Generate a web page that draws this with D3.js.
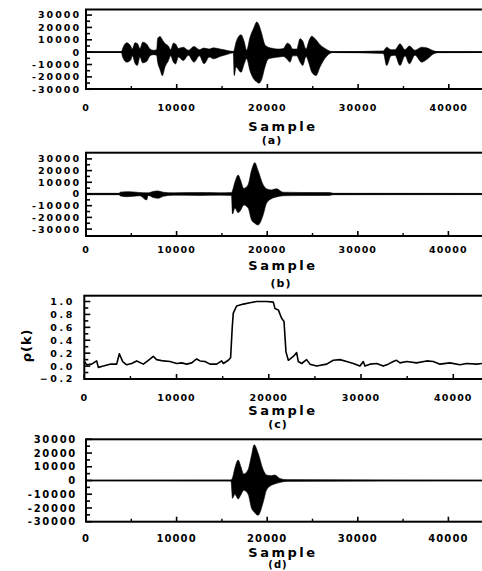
<!DOCTYPE html>
<html><head><meta charset="utf-8">
<script src="https://cdn.jsdelivr.net/npm/d3@7"></script>
<style>
html,body{margin:0;padding:0;background:#fff;}
svg{display:block;}
text{font-family:"DejaVu Sans",sans-serif;font-weight:bold;fill:#000;}
</style></head>
<body>
<svg id="c" width="482" height="571"></svg>
<script>
// ---- data ----
const xTicks = [0, 10000, 20000, 30000, 40000];
const xMinor = [5000, 15000, 25000, 35000];
const waveTicks = [30000, 20000, 10000, 0, -10000, -20000, -30000];
const rhoTicks = [1.0, 0.8, 0.6, 0.4, 0.2, 0.0, -0.2];
const panelLabels = ["(a)", "(b)", "(c)", "(d)"];
const xLabel = "Sample";
const rhoLabel = "ρ(k)";

// envelopes: [sample, upper, lower]
const envA = [
 [0,300,-300],[3900,300,-300],[4040,3000,-4000],[4480,7600,-8100],[4920,5000,-6500],[5110,2500,-3000],
 [5400,7600,-9000],[5660,7000,-10800],[5950,3000,-4000],[6250,8100,-8700],[6690,6500,-7500],[7060,2500,-3000],
 [7420,1500,-2000],[7790,2000,-2500],[7900,11000,-8000],[8160,12700,-14000],[8420,10000,-19000],[8710,7000,-12000],
 [9080,5000,-7000],[9330,2000,-3000],[9630,7300,-8000],[9890,6500,-9500],[10180,3000,-4000],[10730,4000,-6800],
 [11280,1500,-2500],[11910,4600,-8100],[12500,2000,-3000],[13010,3300,-9400],[13600,2500,-4000],[14040,3500,-5400],
 [14770,2500,-3500],[15700,1200,-1500],[16240,500,-500],[16350,2000,-18900],[16540,8000,-12000],[17090,14100,-16300],
 [17420,9000,-10000],[17710,1500,-5200],[18080,12000,-15000],[18520,20000,-22000],[18820,24400,-24000],[19070,22000,-25200],
 [19370,15000,-22000],[19730,6000,-12000],[20100,4000,-5500],[20650,3000,-4500],[21200,2500,-4000],[21760,3000,-3500],
 [22200,7300,-6000],[22490,6000,-8100],[22790,2500,-3000],[23230,2500,-3000],[23600,10900,-8000],[23890,9000,-10800],
 [24260,2500,-3500],[24620,10000,-10000],[24880,12800,-16000],[25360,10000,-18900],[25800,6000,-12000],[26350,3000,-5000],
 [26900,800,-1000],[27200,300,-300],[32780,1000,-1000],[33150,4000,-10800],[33630,2000,-3000],[34070,2000,-2500],
 [34620,6800,-10800],[35170,2000,-3000],[35650,5000,-9400],[36270,1500,-2500],[37010,4000,-8100],[37560,3500,-6000],
 [38290,1200,-1500],[38850,400,-400],[44000,300,-300]
];
const envB = [
 [0,600,-600],[3700,600,-600],[3750,1500,-1500],[4480,2000,-2300],[5220,1800,-2000],[5950,1200,-1500],
 [6690,1000,-5100],[6870,1000,-1200],[7420,2200,-3000],[7970,2600,-3700],[8530,1500,-2000],[9630,1000,-1000],
 [12570,1200,-1200],[14770,1000,-1000],[16060,1200,-1200],[16170,3000,-17100],[16430,10000,-12000],[16800,16200,-16000],
 [17050,12000,-14000],[17420,4800,-9400],[17900,8000,-12000],[18260,20000,-22000],[18630,26800,-25000],[18990,20000,-26500],
 [19550,8000,-18000],[19920,4500,-8000],[20470,3500,-4000],[21020,4500,-2500],[21760,1500,-1500],[23590,1300,-1300],
 [26900,1200,-1200],[27270,600,-600],[44000,500,-500]
];
const envD = [
 [0,200,-200],[16000,300,-300],[16170,2000,-13000],[16430,9000,-10000],[16800,14900,-13500],[17050,11000,-11000],
 [17420,4700,-7100],[17900,8000,-10000],[18260,18000,-20000],[18560,26000,-23000],[18990,20000,-25300],[19550,8000,-16000],
 [19920,4000,-7000],[20470,3500,-3500],[20840,4000,-2500],[21390,1500,-1500],[22120,600,-600],[44000,200,-200]
];
// correlation rho(k): [sample, value]
const rhoC = [
 [0,0.07],[260,0.02],[800,0.03],[1340,0.08],[1520,-0.02],[2060,0.0],[2790,0.03],[3510,0.03],[3800,0.19],[4160,0.07],
 [4590,0.02],[5130,0.04],[5680,0.08],[6400,0.03],[6940,0.09],[7480,0.15],[7840,0.10],[8570,0.08],[9290,0.07],[10010,0.04],
 [10550,0.05],[11100,0.03],[11640,0.05],[12180,0.11],[12540,0.08],[13080,0.07],[13620,0.03],[14350,0.03],[14890,0.08],
 [15070,0.04],[15610,0.09],[15860,0.13],[16040,0.61],[16150,0.82],[16510,0.93],[17240,0.96],[17960,0.98],[18680,1.0],
 [19770,1.0],[20490,0.99],[20670,0.89],[21030,0.87],[21390,0.74],[21650,0.69],[21860,0.22],[22120,0.09],[22660,0.15],
 [23020,0.21],[23200,0.07],[23560,0.04],[24100,0.10],[24460,0.03],[25190,0.0],[26270,0.03],[26990,0.09],[27710,0.10],
 [28440,0.07],[29160,0.04],[29880,0.0],[30240,0.07],[30420,0.0],[30970,0.03],[31690,0.04],[32410,0.0],[32950,0.03],
 [33490,0.07],[33850,0.09],[34220,0.05],[34940,0.07],[36020,0.05],[37110,0.08],[37830,0.07],[38550,0.03],[39630,0.05],
 [40720,0.02],[41440,0.04],[42520,0.03],[43100,0.04],[44000,0.03]
];

// ---- layout ----
const panels = [
 {env:envA, x0:86, pxPer:90.7, top:9.5, bottom:89, yTop:34500, yBot:-29800, ticks:waveTicks, minorStep:5000, yLabR:81, ls:2.0, fs:9.5,
  xLabY:110.5, sampY:131, tagY:143.5, tagX:272},
 {env:envB, x0:86, pxPer:90.6, top:152.7, bottom:236, yTop:35300, yBot:-35900, ticks:waveTicks, minorStep:5000, yLabR:81, ls:2.0, fs:9.5,
  xLabY:252.8, sampY:270, tagY:287, tagX:281},
 {rho:rhoC, x0:84.3, pxPer:92.25, top:295.7, bottom:379, yTop:1.09, yBot:-0.2, ticks:rhoTicks, minorStep:0.1, yLabR:75, ls:2.6, fs:9.5,
  xLabY:400.5, sampY:415, tagY:427.5, tagX:278},
 {env:envD, x0:86, pxPer:90.6, top:439.3, bottom:521.7, yTop:30000, yBot:-30000, ticks:waveTicks, minorStep:5000, yLabR:77, ls:1.7, fs:10,
  xLabY:541.5, sampY:557, tagY:568, tagX:278}
];

const svg = d3.select("#c");
panels.forEach((p, i) => {
  const xMax = 44000;
  const x = d3.scaleLinear().domain([0, xMax]).range([p.x0, p.x0 + p.pxPer * xMax / 10000]);
  const y = d3.scaleLinear().domain([p.yBot, p.yTop]).range([p.bottom, p.top]);
  const g = svg.append("g");
  const right = x(xMax);

  if (p.env) {
    g.append("line").attr("x1", p.x0).attr("x2", right).attr("y1", y(0)).attr("y2", y(0))
      .attr("stroke", "#000").attr("stroke-width", 1.6);
    const area = d3.area().x(d => x(d[0])).y0(d => y(d[2])).y1(d => y(d[1])).curve(d3.curveMonotoneX);
    g.append("path").datum(p.env).attr("d", area).attr("fill", "#000").attr("stroke", "#000").attr("stroke-width", 0.6);
  } else {
    const line = d3.line().x(d => x(d[0])).y(d => y(d[1])).curve(d3.curveLinear);
    g.append("path").datum(p.rho).attr("d", line).attr("fill", "none").attr("stroke", "#000").attr("stroke-width", 1.6)
      .attr("stroke-linejoin", "round");
  }

  g.append("rect").attr("x", p.x0).attr("y", p.top).attr("width", right - p.x0).attr("height", p.bottom - p.top)
    .attr("fill", "none").attr("stroke", "#000").attr("stroke-width", 2);

  const nMinor = Math.round((p.ticks[0] - p.ticks[p.ticks.length - 1]) / p.minorStep);
  for (let k = 0; k <= nMinor; k++) {
    const v = p.ticks[p.ticks.length - 1] + k * p.minorStep;
    const major = k % 2 === 0;
    g.append("line").attr("x1", p.x0).attr("x2", p.x0 + (major ? 6 : 4))
      .attr("y1", y(v)).attr("y2", y(v)).attr("stroke", "#000").attr("stroke-width", 1.6);
  }
  g.selectAll(null).data(p.ticks).enter().append("text")
    .attr("x", p.yLabR).attr("y", d => y(d)).attr("dy", "0.36em")
    .attr("text-anchor", "end").style("font-size", p.fs + "px").style("letter-spacing", p.ls + "px")
    .text(d => p.rho ? d3.format(".1f")(d) : String(d));

  xTicks.forEach(v => {
    g.append("line").attr("x1", x(v)).attr("x2", x(v)).attr("y1", p.bottom).attr("y2", p.bottom - 5)
      .attr("stroke", "#000").attr("stroke-width", 1.6);
  });
  xMinor.forEach(v => {
    g.append("line").attr("x1", x(v)).attr("x2", x(v)).attr("y1", p.bottom).attr("y2", p.bottom - 3)
      .attr("stroke", "#000").attr("stroke-width", 1.4);
  });
  g.selectAll(null).data(xTicks).enter().append("text")
    .attr("x", d => x(d)).attr("y", p.xLabY).attr("text-anchor", "middle")
    .style("font-size", p.fs + "px").style("letter-spacing", "1.1px").text(d => String(d));

  g.append("text").attr("x", 283).attr("y", p.sampY).attr("text-anchor", "middle")
    .style("font-size", "13px").style("letter-spacing", "2.5px").text(xLabel);
  g.append("text").attr("x", p.tagX).attr("y", p.tagY).attr("text-anchor", "middle")
    .style("font-size", i === 3 ? "10px" : "11px").style("letter-spacing", "1px").text(panelLabels[i]);

  if (p.rho) {
    g.append("text").attr("transform", `translate(31,${(p.top + p.bottom) / 2 + 8}) rotate(-90)`)
      .attr("text-anchor", "middle").style("font-size", "13px").style("letter-spacing", "1px").text(rhoLabel);
  }
});
</script>
</body></html>
